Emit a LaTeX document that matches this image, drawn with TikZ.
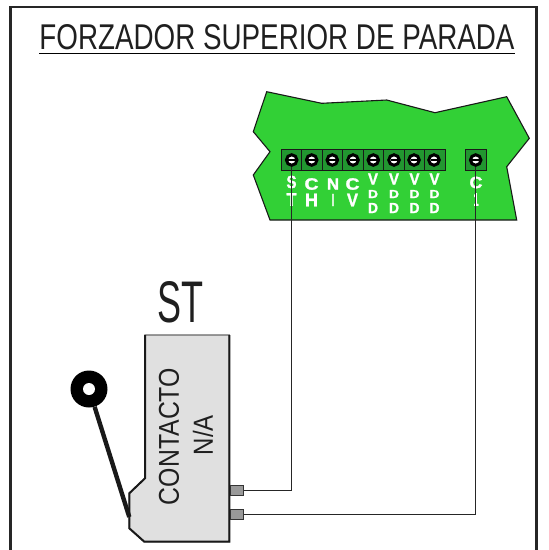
\documentclass[tikz,border=0pt]{standalone}
\usepackage{fontspec}
\usepackage{graphicx}
\setmainfont{Liberation Sans}
\newfontfamily\labfont[BoldFeatures={FakeBold=1.5}]{Liberation Sans}
\newcommand{\fitraw}[3]{\resizebox{#1pt}{#2pt}{#3}}
\definecolor{boardgreen}{RGB}{50,208,54}
\definecolor{blockgreen}{RGB}{34,150,48}
\tikzset{
  x=1pt,y=-1pt,
  txt/.style={inner sep=0pt,outer sep=0pt,text=black!88},
  lab/.style={inner sep=0pt,outer sep=0pt,text=white,font=\labfont\bfseries},
  screwhead/.style={circle,draw=black,fill=white,line width=3pt,minimum size=10.5pt,inner sep=0pt},
  wire/.style={draw=black!85,line width=1.1pt},
  stub/.style={draw=black!80,fill=black!40,line width=1pt,minimum width=13pt,minimum height=10pt,inner sep=0pt},
}
\begin{document}
\begin{tikzpicture}
\useasboundingbox (0,0) rectangle (549,550);
% frame
\draw[black!85,line width=2.4pt] (10.5,550) -- (10.5,7) -- (536.5,7) -- (536.5,550);
% title
\node[txt,anchor=center] (title) at (277,37) {\fitraw{475}{25}{FORZADOR SUPERIOR DE PARADA}};
\draw[black,line width=1.8pt] (39,53.5) -- (515,53.5);
% board
\draw[black!90,fill=boardgreen,line width=1.1pt,line join=miter]
 (266.7,91.7) -- (321.7,103.3) -- (386.7,100) -- (435,112.7) -- (506.7,96.7) -- (529.3,138.3)
 -- (506.7,166.7) -- (516.7,220) -- (270,220) -- (253.3,175) -- (270,151.7) -- (253.3,131.7) -- cycle;
% terminal blocks
\draw[black!90,fill=blockgreen,line width=0.8pt] (281,149.5) rectangle (445,170.5);
\foreach \x in {301.5,322,342.5,363,383.5,404,424} \draw[black!90,line width=0.8pt] (\x,149.5) -- (\x,170.5);
\draw[black!90,fill=blockgreen,line width=0.8pt] (465,149.5) rectangle (486.7,170.5);
\foreach \n/\x in {s1/291.7,s2/311.7,s3/332.3,s4/353,s5/373.3,s6/394,s7/414,s8/434,s9/475.7}{
  \node[screwhead] (\n) at (\x,160) {};
  \draw[black,line width=1.4pt] (\x-3.5,160) -- (\x+3.5,160);
}
% labels
\foreach \n/\x/\y/\w/\h/\t in {
 a/291.5/182/10/12.5/S, b/291.5/199.5/10/12.5/T,
 c/311.5/184/14/11.5/C, d/311.5/200/13/12.5/H,
 e/333/184/12/11/N, f/333/200/2/12/I,
 g/352.5/184/14/11.5/C, h/352.5/200/11/12.5/V,
 i/373/179/10/11/V, j/373/194/10/8/D, k/373/208/10/10/D,
 l/394/179/10/11/V, m/394/194/10/8/D, o/394/208/10/10/D,
 p/414.5/179/10/11/V, q/414.5/194/10/8/D, r/414.5/208/10/10/D,
 u/434.5/179/10/11/V, v/434.5/194/10/8/D, w/434.5/208/10/10/D,
 x/476/182.5/13/11.5/C}{
  \node[lab] (\n) at (\x,\y) {\fitraw{\w}{\h}{\t}};
}
\node[lab] (y) at (476,199.5) {\fitraw{5}{12.5}{1}};
% switch
\draw[black!60,fill=black!12,line width=1.2pt,line join=miter]
 (145,335) -- (229.3,335) -- (229.3,541.7) -- (144.3,541.7) -- (129.3,528.3) -- (129.3,493.3) -- (145,478.3) -- cycle;
\draw[black!90,line width=2pt] (145,335) -- (145,478.3) -- (129.3,493.3) -- (129.3,528.3) -- (144.3,541.7) -- (229.3,541.7) -- (229.3,335);
\node[stub] (t1) at (236.5,490.5) {};
\node[stub] (t2) at (236.5,514.5) {};
% lever
\node[circle,fill=black,minimum size=37pt,inner sep=0pt] (ball) at (89,389) {};
\node[circle,fill=white,minimum size=12pt,inner sep=0pt] (hole) at (89,389) {};
\coordinate (pivot) at (129.3,517);
\draw[black!90,line width=4.4pt] (ball) -- (pivot);
% switch texts
\node[txt] (st) at (180.5,302) {\fitraw{46}{41}{ST}};
\node[txt,rotate=90] (contacto) at (169,436.5) {\fitraw{137}{20}{CONTACTO}};
\node[txt,rotate=90] (na) at (203,435) {\fitraw{40}{20}{N/A}};
% wires
\draw[wire] (s1.south) |- (t1.east);
\draw[wire] (s9.south) |- (t2.east);
\end{tikzpicture}
\end{document}
